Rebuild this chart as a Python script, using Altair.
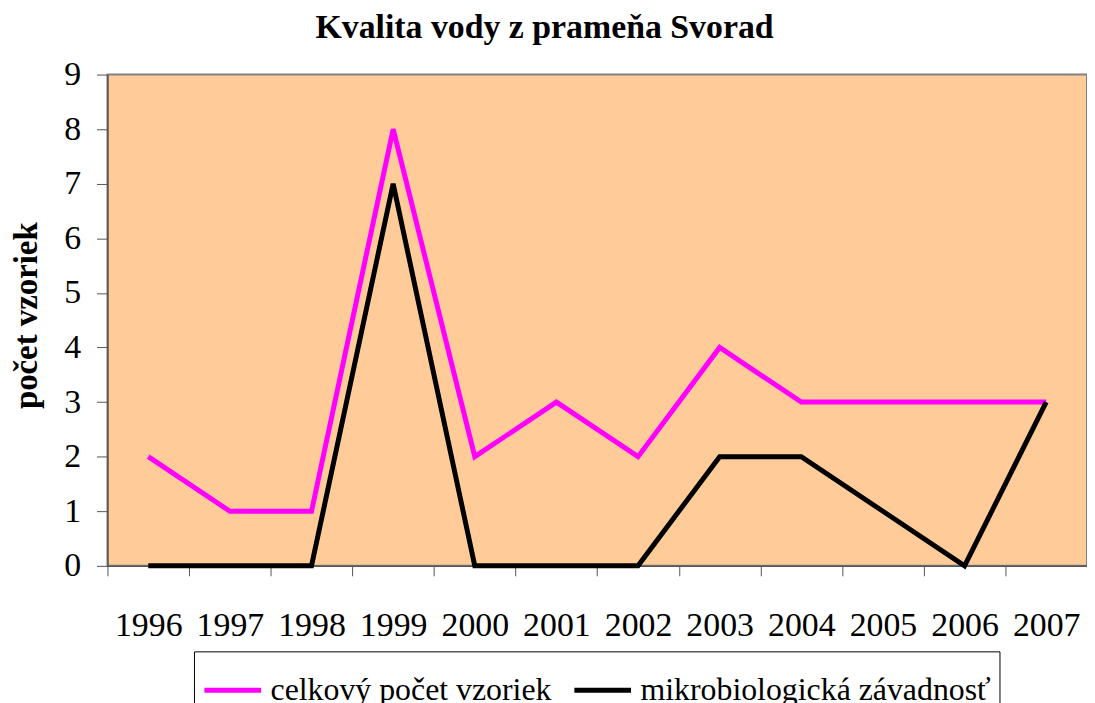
import altair as alt
import pandas as pd

years = ["1996", "1997", "1998", "1999", "2000", "2001", "2002", "2003", "2004", "2005", "2006", "2007"]
celkovy = [2, 1, 1, 8, 2, 3, 2, 4, 3, 3, 3, 3]
mikro = [0, 0, 0, 7, 0, 0, 0, 2, 2, 1, 0, 3]
series_names = ["celkový počet vzoriek", "mikrobiologická závadnosť"]
series_colors = ["#FF00FF", "#000000"]
y_ticks = [0, 1, 2, 3, 4, 5, 6, 7, 8, 9]

rows = []
for i, y in enumerate(years):
    rows.append({"rok": y, "hodnota": celkovy[i], "seria": series_names[0], "poradie": 0})
    rows.append({"rok": y, "hodnota": mikro[i], "seria": series_names[1], "poradie": 1})
df = pd.DataFrame(rows)

FONT = "Liberation Serif"

chart = alt.Chart(df).mark_line(strokeWidth=5, strokeJoin="miter").encode(
    x=alt.X(
        "rok:O",
        scale=alt.Scale(type="band", paddingInner=0, paddingOuter=0),
        bandPosition=0.5,
        axis=alt.Axis(
            title=None,
            labelAngle=0,
            tickBand="extent",
            tickSize=10,
            tickColor="#555555",
            domainColor="#555555",
            domainWidth=1.5,
            labelPadding=33,
            labelFontSize=34,
            labelFont=FONT,
            labelColor="#000000",
        ),
    ),
    y=alt.Y(
        "hodnota:Q",
        scale=alt.Scale(domain=[0, 9], nice=False),
        axis=alt.Axis(
            title="počet vzoriek",
            values=y_ticks,
            grid=False,
            tickSize=11,
            tickColor="#555555",
            domainColor="#555555",
            domainWidth=1.5,
            labelPadding=16,
            labelFontSize=34,
            labelFont=FONT,
            labelColor="#000000",
            titleFont=FONT,
            titleFontSize=33,
            titleFontWeight="bold",
            titleColor="#000000",
            titleX=-81,
            titleY=242,
            titleAngle=270,
            titleAlign="center",
            titleBaseline="middle",
        ),
    ),
    color=alt.Color(
        "seria:N",
        scale=alt.Scale(domain=series_names, range=series_colors),
        legend=alt.Legend(
            title=None,
            orient="none",
            direction="horizontal",
            legendX=87,
            legendY=580,
            symbolType="stroke",
            symbolSize=3249,
            symbolStrokeWidth=5,
            labelFont=FONT,
            labelFontSize=32,
            labelColor="#000000",
            labelOffset=7,
            columnPadding=12,
            padding=8,
            strokeColor="#000000",
            labelLimit=500,
        ),
    ),
    order=alt.Order("poradie:Q"),
).properties(
    width=985,
    height=494,
    title=alt.TitleParams(
        "Kvalita vody z prameňa Svorad",
        font=FONT,
        fontSize=34,
        fontWeight="bold",
        color="#000000",
        anchor="middle",
        dx=-53,
        offset=13,
    ),
    autosize=alt.AutoSizeParams(type="none"),
    padding={"left": 100, "top": 65, "right": 0, "bottom": 140},
).configure(
    background="white",
).configure_view(
    fill="#FFCC99",
    stroke="#808080",
    strokeWidth=2,
)

chart.save("out.html", embed_options={"renderer": "svg", "actions": False})
